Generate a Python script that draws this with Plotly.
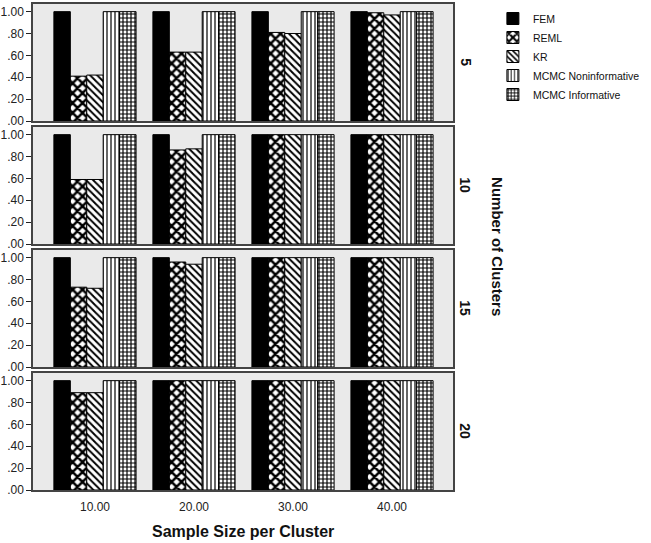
import plotly.graph_objects as go
from plotly.subplots import make_subplots

# Datos
sample_sizes = ["10.00", "20.00", "30.00", "40.00"]
clusters = ["5", "10", "15", "20"]
methods = ["FEM", "REML", "KR", "MCMC Noninformative", "MCMC Informative"]

# una fila por número de clusters (5, 10, 15, 20)
fem = [[1.00, 1.00, 1.00, 1.00],
       [1.00, 1.00, 1.00, 1.00],
       [1.00, 1.00, 1.00, 1.00],
       [1.00, 1.00, 1.00, 1.00]]
reml = [[0.41, 0.63, 0.81, 0.99],
        [0.59, 0.86, 1.00, 1.00],
        [0.73, 0.96, 1.00, 1.00],
        [0.89, 1.00, 1.00, 1.00]]
kr = [[0.42, 0.63, 0.80, 0.97],
      [0.59, 0.87, 1.00, 1.00],
      [0.72, 0.94, 1.00, 1.00],
      [0.89, 1.00, 1.00, 1.00]]
mcmc_noninf = [[1.00, 1.00, 1.00, 1.00],
               [1.00, 1.00, 1.00, 1.00],
               [1.00, 1.00, 1.00, 1.00],
               [1.00, 1.00, 1.00, 1.00]]
mcmc_inf = [[1.00, 1.00, 1.00, 1.00],
            [1.00, 1.00, 1.00, 1.00],
            [1.00, 1.00, 1.00, 1.00],
            [1.00, 1.00, 1.00, 1.00]]

series = [fem, reml, kr, mcmc_noninf, mcmc_inf]

y_ticks = [0, 0.2, 0.4, 0.6, 0.8, 1.0]
y_ticktext = [".00", ".20", ".40", ".60", ".80", "1.00"]

# Estilos (relleno con patrones en blanco y negro)
patterns = [
    None,
    dict(shape="x", size=7, solidity=0.6),
    dict(shape="\\", size=5, solidity=0.4),
    dict(shape="|", size=4, solidity=0.3),
    dict(shape="+", size=4, solidity=0.5),
]

FONT = "Arial, Liberation Sans, sans-serif"

fig = make_subplots(rows=4, cols=1, shared_xaxes=True)

for r in range(4):
    for k, name in enumerate(methods):
        marker = dict(color="black" if k == 0 else "white",
                      line=dict(color="black", width=1))
        if patterns[k] is not None:
            marker["pattern"] = dict(fgcolor="black", bgcolor="white",
                                     fillmode="replace", **patterns[k])
        fig.add_trace(
            go.Bar(x=sample_sizes, y=series[k][r], name=name,
                   marker=marker, legendgroup=name, showlegend=(r == 0)),
            row=r + 1, col=1,
        )

# Posición de los paneles en píxeles
top_px, bottom_px, panel_h, step = 4, 490, 117, 123
H = bottom_px - top_px
domains = []
for r in range(4):
    t = top_px + step * r
    domains.append([(bottom_px - (t + panel_h)) / H, (bottom_px - t) / H])

for r in range(4):
    fig.update_yaxes(
        domain=domains[r], range=[0, 1.07], automargin=False,
        tickvals=y_ticks, ticktext=y_ticktext,
        ticks="outside", ticklen=5, tickcolor="#222", tickwidth=1,
        showgrid=False, zeroline=False,
        showline=True, linecolor="#444", linewidth=1.5, mirror=True,
        tickfont=dict(family=FONT, size=12, color="#222"),
        row=r + 1, col=1,
    )
    fig.update_xaxes(
        range=[-0.626, 3.616], automargin=False,
        showgrid=False, zeroline=False,
        showline=True, linecolor="#444", linewidth=1.5, mirror=True,
        showticklabels=(r == 3), ticks="",
        ticklabelstandoff=5,
        tickfont=dict(family=FONT, size=12, color="#222"),
        row=r + 1, col=1,
    )

# Etiquetas de filas y títulos
for r, c in enumerate(clusters):
    fig.add_annotation(
        text=f"<b>{c}</b>", x=1.029, y=sum(domains[r]) / 2,
        xref="paper", yref="paper", xanchor="center", yanchor="middle",
        textangle=90, showarrow=False,
        font=dict(family=FONT, size=14, color="#111"),
    )

fig.add_annotation(
    text="<b>Number of Clusters</b>", x=1.107, y=0.5,
    xref="paper", yref="paper", xanchor="center", yanchor="middle",
    textangle=90, showarrow=False,
    font=dict(family=FONT, size=15, color="#111"),
)
fig.add_annotation(
    text="<b>Sample Size per Cluster</b>", x=0.5,
    y=(bottom_px - 531) / H, xref="paper", yref="paper",
    yanchor="middle", showarrow=False,
    font=dict(family=FONT, size=16, color="#111"),
)

fig.update_layout(
    width=651, height=543,
    margin=dict(l=33, r=198, t=4, b=53),
    barmode="group", bargap=0.17, bargroupgap=0,
    plot_bgcolor="#EAEAEA", paper_bgcolor="white",
    font=dict(family=FONT, size=11, color="#111"),
    legend=dict(x=1.095, y=1.0, xanchor="left", yanchor="top",
                bgcolor="rgba(0,0,0,0)", font=dict(family=FONT, size=10.5),
                tracegroupgap=0),
)

# sin el margen por defecto del body, la figura ocupa toda la ventana
fig.write_html("out.html", config={"displayModeBar": False},
               post_script="document.body.style.margin='0';")
